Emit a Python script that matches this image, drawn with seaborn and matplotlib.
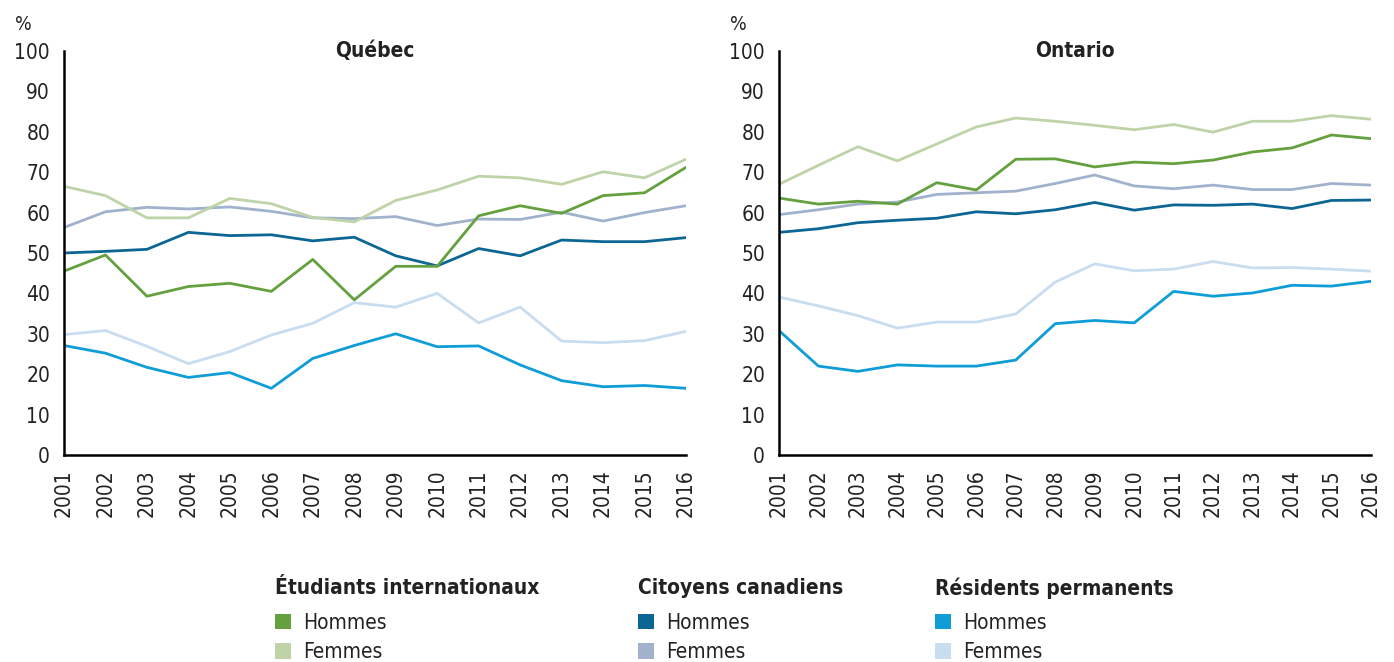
import pandas as pd
import matplotlib.pyplot as plt
import seaborn as sns
from matplotlib.patches import Patch

years = list(range(2001, 2017))

# Québec
qc_etu_h = [45.5, 49.5, 39.3, 41.7, 42.5, 40.5, 48.4, 38.4, 46.7, 46.7, 59.2, 61.7, 59.8, 64.2, 64.9, 71.2]
qc_etu_f = [66.5, 64.2, 58.7, 58.7, 63.5, 62.2, 58.8, 57.7, 63.0, 65.6, 69.0, 68.6, 67.0, 70.1, 68.6, 73.2]
qc_cit_h = [50.0, 50.4, 50.9, 55.1, 54.3, 54.5, 53.0, 53.9, 49.3, 46.8, 51.1, 49.3, 53.2, 52.8, 52.8, 53.8]
qc_cit_f = [56.3, 60.2, 61.3, 60.9, 61.4, 60.3, 58.7, 58.5, 59.0, 56.8, 58.4, 58.3, 60.1, 57.9, 60.0, 61.7]
qc_res_h = [27.1, 25.2, 21.7, 19.2, 20.4, 16.5, 23.9, 27.1, 30.0, 26.8, 27.0, 22.3, 18.4, 16.9, 17.2, 16.5]
qc_res_f = [29.8, 30.8, 26.9, 22.6, 25.6, 29.7, 32.6, 37.7, 36.6, 40.0, 32.7, 36.6, 28.2, 27.8, 28.3, 30.6]

# Ontario
on_etu_h = [63.6, 62.1, 62.8, 62.1, 67.4, 65.6, 73.2, 73.3, 71.3, 72.5, 72.1, 73.0, 75.0, 76.0, 79.2, 78.3]
on_etu_f = [67.0, 71.7, 76.3, 72.8, 77.0, 81.2, 83.4, 82.6, 81.6, 80.5, 81.8, 79.9, 82.6, 82.6, 84.0, 83.1]
on_cit_h = [55.1, 56.0, 57.5, 58.1, 58.6, 60.2, 59.7, 60.7, 62.5, 60.6, 61.9, 61.8, 62.1, 61.0, 63.0, 63.1]
on_cit_f = [59.5, 60.7, 62.1, 62.6, 64.5, 64.9, 65.3, 67.2, 69.3, 66.6, 65.9, 66.8, 65.7, 65.7, 67.2, 66.8]
on_res_h = [30.8, 22.0, 20.7, 22.3, 22.0, 22.0, 23.5, 32.5, 33.3, 32.7, 40.5, 39.3, 40.1, 42.0, 41.8, 43.0]
on_res_f = [39.1, 36.9, 34.5, 31.4, 32.9, 32.9, 34.9, 42.8, 47.3, 45.6, 46.0, 47.9, 46.3, 46.4, 46.0, 45.5]

groups = ["Étudiants internationaux", "Citoyens canadiens", "Résidents permanents"]
sexes = ["Hommes", "Femmes"]
colors = {
    "Étudiants internationaux|Hommes": "#64a03e",
    "Étudiants internationaux|Femmes": "#bfd3a8",
    "Citoyens canadiens|Hommes": "#0b6694",
    "Citoyens canadiens|Femmes": "#a1b2cc",
    "Résidents permanents|Hommes": "#0f9dd8",
    "Résidents permanents|Femmes": "#c9ddf0",
}

provinces = {
    "Québec": [qc_etu_h, qc_etu_f, qc_cit_h, qc_cit_f, qc_res_h, qc_res_f],
    "Ontario": [on_etu_h, on_etu_f, on_cit_h, on_cit_f, on_res_h, on_res_f],
}

rows = []
for prov, series in provinces.items():
    i = 0
    for g in groups:
        for s in sexes:
            for y, v in zip(years, series[i]):
                rows.append({"province": prov, "serie": g + "|" + s, "annee": y, "pct": v})
            i += 1
df = pd.DataFrame(rows)

sns.set_style("white")
plt.rcParams['font.family'] = ['Liberation Sans Narrow', 'DejaVu Sans']
plt.rcParams['font.stretch'] = 'condensed'

fig = plt.figure(figsize=(13.94, 6.62), dpi=100)
ax_pos = {
    "Québec": [0.0459, 0.3127, 0.4462, 0.6103],
    "Ontario": [0.5588, 0.3127, 0.4247, 0.6103],
}
pct_x = {"Québec": -0.066, "Ontario": -0.069}

# lighter lines below
draw_order = [
    "Résidents permanents|Femmes", "Citoyens canadiens|Femmes", "Étudiants internationaux|Femmes",
    "Résidents permanents|Hommes", "Citoyens canadiens|Hommes", "Étudiants internationaux|Hommes",
]

for prov in ["Québec", "Ontario"]:
    ax = fig.add_axes(ax_pos[prov])
    sub = df[df["province"] == prov]
    sns.lineplot(data=sub, x="annee", y="pct", hue="serie", hue_order=draw_order,
                 palette=colors, linewidth=2.0, ax=ax, legend=False)
    ax.set_xlim(2001, 2016)
    ax.set_ylim(0, 100)
    ax.set_yticks(range(0, 101, 10))
    ax.set_xticks(years)
    ax.set_xticklabels([str(y) for y in years], rotation=90)
    ax.set_xlabel("")
    ax.set_ylabel("")
    ax.tick_params(axis="both", labelsize=15, length=6, width=1.2, direction="out", pad=4,
                   colors="black", labelcolor="#222222")
    for side in ["top", "right"]:
        ax.spines[side].set_visible(False)
    for side in ["left", "bottom"]:
        ax.spines[side].set_color("black")
        ax.spines[side].set_linewidth(1.8)
    ax.text(0.5, 1.0, prov, transform=ax.transAxes, fontsize=15, fontweight="bold",
            ha="center", va="center", color="#222222")
    ax.text(pct_x[prov], 1.0656, "%", transform=ax.transAxes, fontsize=14, ha="center",
            va="center", color="#222222")

# legends (three groups)
leg_x = [0.1973, 0.4577, 0.6707]
for g, lx in zip(groups, leg_x):
    fig.text(lx, 1 - 588 / 662, g, fontsize=15, fontweight="bold", ha="left", va="center",
             color="#222222")
    handles = [Patch(facecolor=colors[g + "|" + s], edgecolor="none", label=s) for s in sexes]
    fig.legend(handles=handles, loc="upper left", bbox_to_anchor=(lx, 1 - 613 / 662),
               frameon=False, fontsize=15, handlelength=0.75, handleheight=0.75,
               handletextpad=0.6, labelspacing=0.45, borderpad=0, borderaxespad=0,
               labelcolor="#222222")

fig.savefig("out.png", dpi=100)
